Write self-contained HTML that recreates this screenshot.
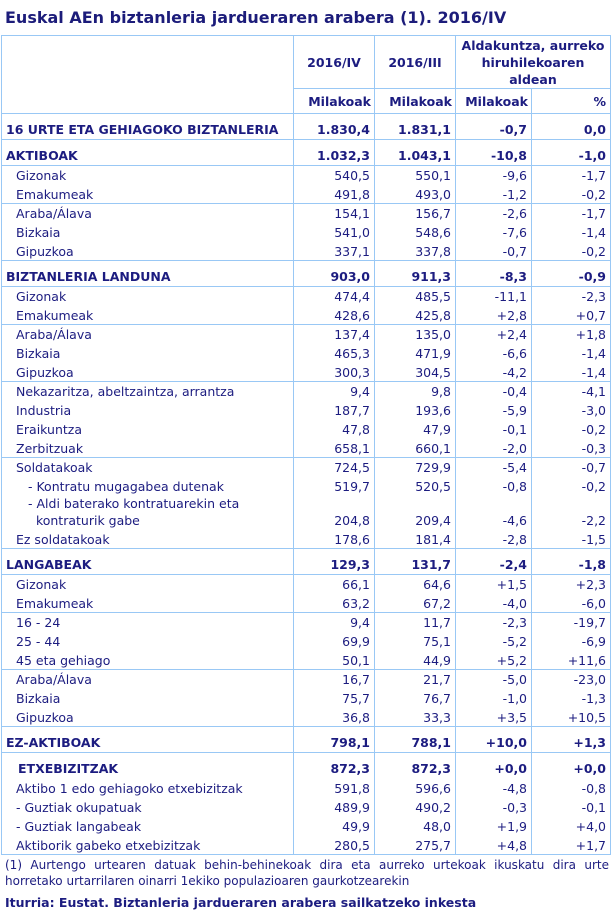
<!DOCTYPE html>
<html><head><meta charset="utf-8"><style>
body{margin:0;background:#fff;width:612px;height:912px;overflow:hidden;font-family:"DejaVu Sans","Liberation Sans",sans-serif;color:#1c1c80;font-size:12.5px;}
.t{position:absolute;left:5px;top:8px;font-size:16px;font-weight:bold;color:#1c1c7a;}
table{position:absolute;left:1px;top:35px;border-collapse:collapse;table-layout:fixed;}
td{padding:0 4px 0 0;text-align:right;vertical-align:bottom;white-space:nowrap;line-height:17px;border-left:1px solid #99c8f5;border-right:1px solid #99c8f5;overflow:hidden;}
td.l{text-align:left;padding-left:14px;}
tr.b td{font-weight:bold;height:24px;padding-bottom:1px;}
tr.b td.l{padding-left:4px;}
tr.s td{border-top:1px solid #99c8f5;}
tr.n td{height:19px;}
tr.n.s td{height:18px;}
.h td{font-weight:bold;text-align:center;vertical-align:middle;padding:0;border:1px solid #99c8f5;line-height:17px}
.fn{position:absolute;left:5px;top:857px;font-size:12px;line-height:16px;width:604px;text-align:justify;}
.src{position:absolute;left:5px;top:895px;font-size:12.5px;font-weight:bold;}
</style></head><body>
<div class="t">Euskal AEn biztanleria jardueraren arabera (1). 2016/IV</div>
<table>
<colgroup><col style="width:292px"><col style="width:81px"><col style="width:81px"><col style="width:76px"><col style="width:79px"></colgroup>
<tr class="h" style="height:53px"><td rowspan="2"></td><td>2016/IV</td><td>2016/III</td><td colspan="2">Aldakuntza, aurreko<br>hiruhilekoaren<br>aldean</td></tr>
<tr class="h" style="height:25px"><td style="text-align:right;padding-right:3px">Milakoak</td><td style="text-align:right;padding-right:3px">Milakoak</td><td style="text-align:right;padding-right:3px">Milakoak</td><td style="text-align:right;padding-right:4px">%</td></tr>
<tr class="b s"><td class="l">16 URTE ETA GEHIAGOKO BIZTANLERIA</td><td>1.830,4</td><td>1.831,1</td><td>-0,7</td><td>0,0</td></tr>
<tr class="b s"><td class="l">AKTIBOAK</td><td>1.032,3</td><td>1.043,1</td><td>-10,8</td><td>-1,0</td></tr>
<tr class="n s"><td class="l">Gizonak</td><td>540,5</td><td>550,1</td><td>-9,6</td><td>-1,7</td></tr>
<tr class="n"><td class="l">Emakumeak</td><td>491,8</td><td>493,0</td><td>-1,2</td><td>-0,2</td></tr>
<tr class="n s"><td class="l">Araba/Álava</td><td>154,1</td><td>156,7</td><td>-2,6</td><td>-1,7</td></tr>
<tr class="n"><td class="l">Bizkaia</td><td>541,0</td><td>548,6</td><td>-7,6</td><td>-1,4</td></tr>
<tr class="n"><td class="l">Gipuzkoa</td><td>337,1</td><td>337,8</td><td>-0,7</td><td>-0,2</td></tr>
<tr class="b s"><td class="l">BIZTANLERIA LANDUNA</td><td>903,0</td><td>911,3</td><td>-8,3</td><td>-0,9</td></tr>
<tr class="n s"><td class="l">Gizonak</td><td>474,4</td><td>485,5</td><td>-11,1</td><td>-2,3</td></tr>
<tr class="n"><td class="l">Emakumeak</td><td>428,6</td><td>425,8</td><td>+2,8</td><td>+0,7</td></tr>
<tr class="n s"><td class="l">Araba/Álava</td><td>137,4</td><td>135,0</td><td>+2,4</td><td>+1,8</td></tr>
<tr class="n"><td class="l">Bizkaia</td><td>465,3</td><td>471,9</td><td>-6,6</td><td>-1,4</td></tr>
<tr class="n"><td class="l">Gipuzkoa</td><td>300,3</td><td>304,5</td><td>-4,2</td><td>-1,4</td></tr>
<tr class="n s"><td class="l">Nekazaritza, abeltzaintza, arrantza</td><td>9,4</td><td>9,8</td><td>-0,4</td><td>-4,1</td></tr>
<tr class="n"><td class="l">Industria</td><td>187,7</td><td>193,6</td><td>-5,9</td><td>-3,0</td></tr>
<tr class="n"><td class="l">Eraikuntza</td><td>47,8</td><td>47,9</td><td>-0,1</td><td>-0,2</td></tr>
<tr class="n"><td class="l">Zerbitzuak</td><td>658,1</td><td>660,1</td><td>-2,0</td><td>-0,3</td></tr>
<tr class="n s"><td class="l">Soldatakoak</td><td>724,5</td><td>729,9</td><td>-5,4</td><td>-0,7</td></tr>
<tr class="n"><td class="l" style="padding-left:26px">- Kontratu mugagabea dutenak</td><td>519,7</td><td>520,5</td><td>-0,8</td><td>-0,2</td></tr>
<tr class="n"><td class="l" style="padding-left:26px;line-height:17px;height:34px">- Aldi baterako kontratuarekin eta<br>&nbsp;&nbsp;kontraturik gabe</td><td>204,8</td><td>209,4</td><td>-4,6</td><td>-2,2</td></tr>
<tr class="n"><td class="l">Ez soldatakoak</td><td>178,6</td><td>181,4</td><td>-2,8</td><td>-1,5</td></tr>
<tr class="b s"><td class="l">LANGABEAK</td><td>129,3</td><td>131,7</td><td>-2,4</td><td>-1,8</td></tr>
<tr class="n s"><td class="l">Gizonak</td><td>66,1</td><td>64,6</td><td>+1,5</td><td>+2,3</td></tr>
<tr class="n"><td class="l">Emakumeak</td><td>63,2</td><td>67,2</td><td>-4,0</td><td>-6,0</td></tr>
<tr class="n s"><td class="l">16 - 24</td><td>9,4</td><td>11,7</td><td>-2,3</td><td>-19,7</td></tr>
<tr class="n"><td class="l">25 - 44</td><td>69,9</td><td>75,1</td><td>-5,2</td><td>-6,9</td></tr>
<tr class="n"><td class="l">45 eta gehiago</td><td>50,1</td><td>44,9</td><td>+5,2</td><td>+11,6</td></tr>
<tr class="n s"><td class="l">Araba/Álava</td><td>16,7</td><td>21,7</td><td>-5,0</td><td>-23,0</td></tr>
<tr class="n"><td class="l">Bizkaia</td><td>75,7</td><td>76,7</td><td>-1,0</td><td>-1,3</td></tr>
<tr class="n"><td class="l">Gipuzkoa</td><td>36,8</td><td>33,3</td><td>+3,5</td><td>+10,5</td></tr>
<tr class="b s"><td class="l">EZ-AKTIBOAK</td><td>798,1</td><td>788,1</td><td>+10,0</td><td>+1,3</td></tr>
<tr class="b s"><td class="l" style="padding-left:16px">ETXEBIZITZAK</td><td>872,3</td><td>872,3</td><td>+0,0</td><td>+0,0</td></tr>
<tr class="n"><td class="l">Aktibo 1 edo gehiagoko etxebizitzak</td><td>591,8</td><td>596,6</td><td>-4,8</td><td>-0,8</td></tr>
<tr class="n"><td class="l">- Guztiak okupatuak</td><td>489,9</td><td>490,2</td><td>-0,3</td><td>-0,1</td></tr>
<tr class="n"><td class="l">- Guztiak langabeak</td><td>49,9</td><td>48,0</td><td>+1,9</td><td>+4,0</td></tr>
<tr class="n" style="border-bottom:1px solid #99c8f5"><td class="l">Aktiborik gabeko etxebizitzak</td><td>280,5</td><td>275,7</td><td>+4,8</td><td>+1,7</td></tr>
</table>
<div class="fn">(1) Aurtengo urtearen datuak behin-behinekoak dira eta aurreko urtekoak ikuskatu dira urte horretako urtarrilaren oinarri 1ekiko populazioaren gaurkotzearekin</div>
<div class="src">Iturria: Eustat. Biztanleria jardueraren arabera sailkatzeko inkesta</div>
</body></html>
